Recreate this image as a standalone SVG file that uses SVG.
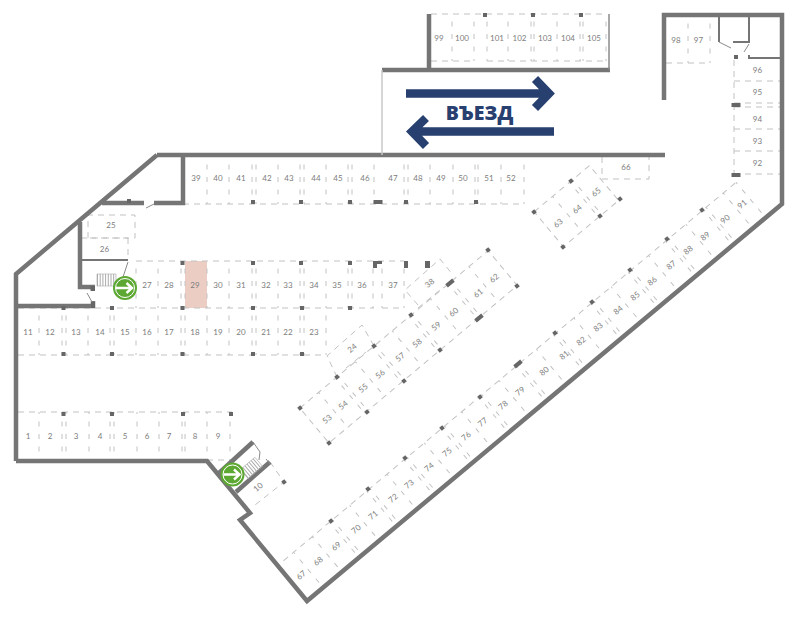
<svg xmlns="http://www.w3.org/2000/svg" width="800" height="617" viewBox="0 0 800 617">
<style>
.w{fill:none;stroke:#757575;stroke-width:4.5;stroke-linejoin:miter}
.n{fill:none;stroke:#757575;stroke-width:2}
.h{fill:none;stroke:#8a8a8a;stroke-width:1}
.d{fill:none;stroke:#c2c2c2;stroke-width:1;stroke-dasharray:5 7.5;stroke-dashoffset:3}
.l{fill:none;stroke:#c2c2c2;stroke-width:1;stroke-dasharray:6 5}
.c{fill:#666}
.t{font:8px Lato,"Liberation Sans",sans-serif;fill:#7d7d7d;text-anchor:middle;dominant-baseline:central}
.a{fill:none;stroke:#27406f;stroke-width:8.5;stroke-linejoin:miter}
</style>
<defs>
<rect id="col" class="c" x="-2" y="-2" width="4" height="4"/>
<rect id="wide" class="c" x="-4.5" y="-2" width="9" height="4"/>
<g id="exit">
<circle r="12" fill="#5da832"/>
<circle r="9.5" fill="none" stroke="#fff" stroke-width="1"/>
<path d="M-9 0H6M1.5-5L7 0L1.5 5" fill="none" stroke="#fff" stroke-width="2.4"/>
</g>
</defs>
<rect id="slot-29" x="185" y="261" width="22" height="47" fill="#eccdc4"/>
<g id="dashes">
<path class="d" d="M207 204v-49M229 204v-49M252 204v-49M256 204v-49M278 204v-49M300 204v-49M304 204v-49M326 204v-49M348 204v-49M352 204v-49M374 204v-49M404 204v-49M408 204v-49M430 204v-49M453 204v-49M475 204v-49M478 204v-49M501 204v-49M524 204v-49"/>
<path class="l" d="M183 204H524"/>
<path class="d" d="M136 308v-47M158 308v-47M181 308v-47M185 308v-47M207 308v-47M229 308v-47M252 308v-47M256 308v-47M278 308v-47M300 308v-47M304 308v-47M326 308v-47M348 308v-47M352 308v-47M373 308v-47M382 308v-47M404 308v-47"/>
<path class="l" d="M136 261H404M18 308H374M382 308H404"/>
<path class="d" d="M39 355v-47M62 355v-47M66 355v-47M88 355v-47M110 355v-47M114 355v-47M136 355v-47M158 355v-47M181 355v-47M185 355v-47M207 355v-47M229 355v-47M252 355v-47M256 355v-47M278 355v-47M300 355v-47M304 355v-47M326 355v-47"/>
<path class="l" d="M18 355H326"/>
<path class="d" d="M39 461v-49M62 461v-49M66 461v-49M89 461v-49M110 461v-49M114 461v-49M137 461v-49M159 461v-49M182 461v-49M185 461v-49M207 461v-49M230 461v-49"/>
<path class="l" d="M18 412H232M207 460H230"/>
<path class="l" d="M88 238V215H135V238H88M128 238V260M81 238H128"/>
<path class="d" d="M452 61v-47M474 61v-47M487 61v-47M508 61v-47M531 61v-47M534 61v-47M557 61v-47M580 61v-47M583 61v-47M606 61v-47"/>
<path class="l" d="M431 14H606M431 61H474M487 61H606"/>
<path class="d" d="M688 63v-47M710 63v-47"/>
<path class="l" d="M666 63H710"/>
<path class="l" d="M734 60V178M734 81H781M734 103H781M734 107H781M734 129H781M734 151H781M734 174H781"/>
<path class="l" d="M602 157V179H649V157"/>
<g transform="translate(571,181) rotate(-39.9)">
<path class="d" d="M-24 0V45M-2 0V45M2 0V45"/>
<path class="l" d="M-48 0H24V45.5H-48Z"/>
</g>
<g transform="translate(337,377) rotate(-39.9)">
<path class="d" d="M-24 0V45M24 0V45M72 0V45M122 0V45M172 0V45M-2 0V45M2 0V45M46 0V45M50 0V45M94 0V45M98 0V45M145 0V45M149 0V45"/>
<path class="l" d="M-48.5 0H197V45.5H-48.5Z"/>
</g>
<g transform="translate(331,521) rotate(-39.9)">
<path class="d" d="M-48.7 0V45M-24.35 0V45M24.35 0V45M73 0V45M121.7 0V45M170.4 0V45M219.1 0V45M267.8 0V45M316.5 0V45M365.2 0V45M413.9 0V45M462.6 0V45M511.3 0V45M528 0V45M-2 0V45M2 0V45M46.7 0V45M50.7 0V45M95.4 0V45M99.4 0V45M144.1 0V45M148.1 0V45M192.8 0V45M196.8 0V45M241.5 0V45M245.5 0V45M290.2 0V45M294.2 0V45M338.9 0V45M342.9 0V45M387.6 0V45M391.6 0V45M436.3 0V45M440.3 0V45M485 0V45M489 0V45"/>
<path class="l" d="M-62 0H528"/>
</g>
<path class="l" d="M337 377L327 356L362 325L374 346M346 368L366 352"/>
<path class="l" d="M418 305L405 290L440 259L453 275M418 308L440 290"/>
<path class="l" d="M270 462L284 482L255 505"/>
</g>
<g id="walls">
<path class="w" d="M157 155H665M16 461V274L157 155M16 461H207L250 513L240 520L307 601L782 204V15H664V100"/>
<path class="w" d="M429 14V70M382 70H610"/>
<path class="w" d="M183 155V203H154M144 203H102"/>
<path class="w" d="M80 222V287H95M16 306H93V301"/>
<path class="n" d="M80 260H128"/>
<path class="w" d="M219 473L253 442M236 492L270 462"/>
<path class="n" d="M719 15V42M733 42H749V15M749 55V58H781"/>
<path class="h" d="M146 208L154 204M128 262L122 280M87 293L92 302M253 442L260 452L259 460M266 459L270 464M719 42L731 48M749 44L744 52"/>
<path d="M382 70V155" fill="none" stroke="#c9c9c9" stroke-width="1.5"/>
<path d="M609 14V70" fill="none" stroke="#8a8a8a" stroke-width="1.5"/>
</g>
<g id="columns">
<use href="#col" x="129" y="201"/><use href="#col" x="253" y="202"/><use href="#col" x="301" y="202"/><use href="#col" x="350" y="202"/><use href="#wide" x="378" y="202"/><use href="#col" x="406" y="202"/><use href="#col" x="476" y="202"/>
<use href="#col" x="182.5" y="263"/><use href="#col" x="253" y="263"/><use href="#col" x="301" y="263"/><use href="#col" x="350" y="263"/>
<path class="c" d="M373 261H382V264H377V268H373ZM404 261H408V268H404ZM425 261H430V268H425ZM90.500 286H95V291H90.500ZM91 302H95V308H91Z"/>
<use href="#col" x="63.500" y="308"/><use href="#col" x="112" y="308"/><use href="#col" x="182.500" y="308"/><use href="#col" x="253" y="308"/><use href="#col" x="302" y="308"/><use href="#col" x="350" y="308"/>
<use href="#col" x="63.500" y="354"/><use href="#col" x="112" y="354"/><use href="#col" x="182.500" y="354"/><use href="#col" x="253" y="354"/><use href="#col" x="302" y="354"/>
<use href="#col" x="63.500" y="414"/><use href="#col" x="112" y="414"/><use href="#col" x="183" y="414"/><use href="#col" x="231" y="414"/>
<use href="#col" x="485" y="15"/><use href="#col" x="533" y="15"/><use href="#col" x="581" y="15"/>
<use href="#col" x="736" y="57"/><use href="#wide" x="736" y="105"/><use href="#wide" x="736" y="175"/>
<use href="#col" transform="translate(534,212) rotate(-40)"/><use href="#col" transform="translate(571,181) rotate(-40)"/><use href="#col" transform="translate(600,216) rotate(-40)"/><use href="#col" transform="translate(563,247) rotate(-40)"/><use href="#col" transform="translate(620,199) rotate(-40)"/>
<use href="#col" transform="translate(300,408) rotate(-40)"/><use href="#col" transform="translate(337,377) rotate(-40)"/><use href="#col" transform="translate(374,346) rotate(-40)"/><use href="#col" transform="translate(411,315) rotate(-40)"/><use href="#wide" transform="translate(450,283) rotate(-40)"/><use href="#col" transform="translate(488,250) rotate(-40)"/>
<use href="#col" transform="translate(329,443) rotate(-40)"/><use href="#col" transform="translate(367,412) rotate(-40)"/><use href="#col" transform="translate(404,381) rotate(-40)"/><use href="#col" transform="translate(440,350) rotate(-40)"/><use href="#wide" transform="translate(479,318) rotate(-40)"/><use href="#col" transform="translate(517,286) rotate(-40)"/>
<use href="#col" transform="translate(331,521) rotate(-40)"/><use href="#col" transform="translate(368,489) rotate(-40)"/><use href="#col" transform="translate(405,458) rotate(-40)"/><use href="#col" transform="translate(442,428) rotate(-40)"/><use href="#col" transform="translate(480,397) rotate(-40)"/><use href="#wide" transform="translate(518,364) rotate(-40)"/><use href="#col" transform="translate(555,333) rotate(-40)"/><use href="#col" transform="translate(592,302) rotate(-40)"/><use href="#col" transform="translate(630,270) rotate(-40)"/><use href="#col" transform="translate(667,239) rotate(-40)"/><use href="#col" transform="translate(702,210) rotate(-40)"/>
<use href="#col" transform="translate(284,482) rotate(-40)"/>
</g>
<g id="stairs">
<rect x="97" y="274" width="19" height="12" fill="none" stroke="#aaa" stroke-width=".6"/>
<path d="M97 280H116" stroke="#aaa" stroke-width="12" stroke-dasharray="1 1.7" fill="none"/>
<g transform="translate(251.500,468) rotate(-40)">
<rect x="-9.500" y="-6" width="19" height="12" fill="none" stroke="#aaa" stroke-width=".6"/>
<path d="M-9.500 0H9.500" stroke="#aaa" stroke-width="12" stroke-dasharray="1 1.7" fill="none"/>
</g>
</g>
<g id="exits">
<use href="#exit" x="125" y="288"/>
<use href="#exit" x="232.500" y="474.500"/>
</g>
<g id="entry">
<path class="a" d="M406 93.500H548M535 79L549 93.500L535 108"/>
<path class="a" d="M554 131.500H412M426 118L412 131.500L426 146"/>
<text x="479.500" y="112" style="font:800 19.500px 'Open Sans','Noto Sans',sans-serif;fill:#27406f;text-anchor:middle;dominant-baseline:central">ВЪЕЗД</text>
</g>
<g id="labels" class="labels">
<text class="t" x="196" y="178">39</text><text class="t" x="218" y="178">40</text><text class="t" x="241" y="178">41</text><text class="t" x="267" y="178">42</text><text class="t" x="289" y="178">43</text><text class="t" x="316" y="178">44</text><text class="t" x="338" y="178">45</text><text class="t" x="365" y="178">46</text><text class="t" x="393" y="178">47</text><text class="t" x="418" y="178">48</text><text class="t" x="441" y="178">49</text><text class="t" x="463" y="178">50</text><text class="t" x="489" y="178">51</text><text class="t" x="511" y="178">52</text>
<text class="t" x="147" y="285">27</text><text class="t" x="169" y="285">28</text><text class="t" x="195" y="285">29</text><text class="t" x="218" y="285">30</text><text class="t" x="241" y="285">31</text><text class="t" x="266" y="285">32</text><text class="t" x="288" y="285">33</text><text class="t" x="314" y="285">34</text><text class="t" x="337" y="285">35</text><text class="t" x="362" y="285">36</text><text class="t" x="393" y="285">37</text>
<text class="t" x="28" y="332">11</text><text class="t" x="50" y="332">12</text><text class="t" x="76" y="332">13</text><text class="t" x="100" y="332">14</text><text class="t" x="125" y="332">15</text><text class="t" x="147" y="332">16</text><text class="t" x="169" y="332">17</text><text class="t" x="195" y="332">18</text><text class="t" x="218" y="332">19</text><text class="t" x="241" y="332">20</text><text class="t" x="266" y="332">21</text><text class="t" x="288" y="332">22</text><text class="t" x="314" y="332">23</text>
<text class="t" x="28" y="436">1</text><text class="t" x="50" y="436">2</text><text class="t" x="76" y="436">3</text><text class="t" x="100" y="436">4</text><text class="t" x="125" y="436">5</text><text class="t" x="147" y="436">6</text><text class="t" x="169" y="436">7</text><text class="t" x="195" y="436">8</text><text class="t" x="218" y="436">9</text>
<text class="t" x="111" y="225">25</text><text class="t" x="104.500" y="249">26</text>
<text class="t" x="439" y="38">99</text><text class="t" x="462" y="38">100</text><text class="t" x="497" y="38">101</text><text class="t" x="519.500" y="38">102</text><text class="t" x="545" y="38">103</text><text class="t" x="568" y="38">104</text><text class="t" x="594" y="38">105</text>
<text class="t" x="676" y="40">98</text><text class="t" x="698.500" y="40">97</text>
<text class="t" x="757.500" y="70">96</text><text class="t" x="757.500" y="92">95</text><text class="t" x="757.500" y="118.500">94</text><text class="t" x="757.500" y="140.500">93</text><text class="t" x="757.500" y="162.500">92</text>
<text class="t" x="626" y="167">66</text>
<text class="t" transform="translate(258,487) rotate(-40)">10</text><text class="t" transform="translate(352,348) rotate(-40)">24</text><text class="t" transform="translate(429.500,283) rotate(-40)">38</text>
<text class="t" transform="translate(558,223) rotate(-40)">63</text><text class="t" transform="translate(577,209) rotate(-40)">64</text><text class="t" transform="translate(596,192) rotate(-40)">65</text>
<text class="t" transform="translate(327,419) rotate(-40)">53</text><text class="t" transform="translate(343,405) rotate(-40)">54</text><text class="t" transform="translate(363,388) rotate(-40)">55</text><text class="t" transform="translate(380,374) rotate(-40)">56</text><text class="t" transform="translate(400,357) rotate(-40)">57</text><text class="t" transform="translate(417,343) rotate(-40)">58</text><text class="t" transform="translate(436,326) rotate(-40)">59</text><text class="t" transform="translate(453.500,312) rotate(-40)">60</text><text class="t" transform="translate(478,293) rotate(-40)">61</text><text class="t" transform="translate(494,278) rotate(-40)">62</text>
<text class="t" transform="translate(301,575) rotate(-40)">67</text><text class="t" transform="translate(318,561) rotate(-40)">68</text><text class="t" transform="translate(336,546) rotate(-40)">69</text><text class="t" transform="translate(356,529) rotate(-40)">70</text><text class="t" transform="translate(373,515) rotate(-40)">71</text><text class="t" transform="translate(393,498) rotate(-40)">72</text><text class="t" transform="translate(409,484) rotate(-40)">73</text><text class="t" transform="translate(429,467) rotate(-40)">74</text><text class="t" transform="translate(447,452) rotate(-40)">75</text><text class="t" transform="translate(466,436) rotate(-40)">76</text><text class="t" transform="translate(482.500,422) rotate(-40)">77</text><text class="t" transform="translate(503,405) rotate(-40)">78</text><text class="t" transform="translate(520,391) rotate(-40)">79</text><text class="t" transform="translate(544,371) rotate(-40)">80</text><text class="t" transform="translate(564,355) rotate(-40)">81</text><text class="t" transform="translate(581,341) rotate(-40)">82</text><text class="t" transform="translate(598,327) rotate(-40)">83</text><text class="t" transform="translate(618,310) rotate(-40)">84</text><text class="t" transform="translate(635,296) rotate(-40)">85</text><text class="t" transform="translate(652,281) rotate(-40)">86</text><text class="t" transform="translate(671,265) rotate(-40)">87</text><text class="t" transform="translate(688,250) rotate(-40)">88</text><text class="t" transform="translate(705,236) rotate(-40)">89</text><text class="t" transform="translate(725,219) rotate(-40)">90</text><text class="t" transform="translate(742,204) rotate(-40)">91</text>
</g>
</svg>
